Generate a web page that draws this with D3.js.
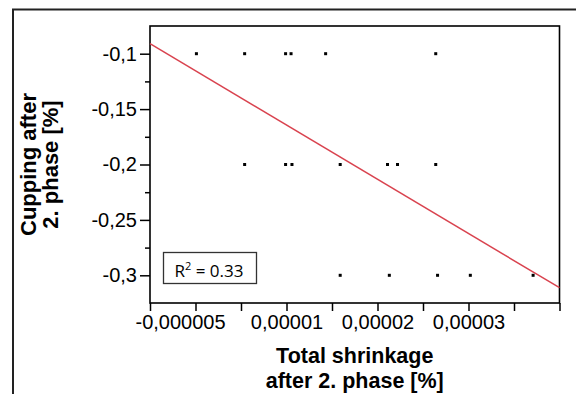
<!DOCTYPE html>
<html>
<head>
<meta charset="utf-8">
<script src="https://cdn.jsdelivr.net/npm/d3@7"></script>
<style>
  html, body { margin: 0; padding: 0; background: #fff; }
  svg { display: block; }
  text { font-family: "Liberation Sans", Arial, sans-serif; fill: #000; }
</style>
</head>
<body>
<svg id="chart" width="576" height="394"></svg>
<script>
// ---- data ----
const shrinkage = [0.0000001, 0.0000054, 0.0000099, 0.0000105, 0.0000143, 0.0000264,
                   0.0000054, 0.0000099, 0.0000106, 0.0000159, 0.0000211, 0.0000222, 0.0000264,
                   0.0000159, 0.0000213, 0.0000266, 0.0000302, 0.0000371];
const cupping = [-0.1, -0.1, -0.1, -0.1, -0.1, -0.1,
                 -0.2, -0.2, -0.2, -0.2, -0.2, -0.2, -0.2,
                 -0.3, -0.3, -0.3, -0.3, -0.3];
const fitX = [-0.000005, 0.00004];
const fitY = [-0.091, -0.3112];
const xTickValues = [-0.000005, 0, 0.000005, 0.00001, 0.000015, 0.00002, 0.000025, 0.00003, 0.000035, 0.00004];
const xLabelValues = [-0.000005, 0.00001, 0.00002, 0.00003];
const xLabelTexts = ["-0,000005", "0,00001", "0,00002", "0,00003"];
const yMajorValues = [-0.1, -0.15, -0.2, -0.25, -0.3];
const yMajorTexts = ["-0,1", "-0,15", "-0,2", "-0,25", "-0,3"];
const yMinorValues = [-0.125, -0.175, -0.225, -0.275];
const r2Text = "0.33";

// ---- layout ----
const svg = d3.select("#chart");
const L = 150, R = 559.5, T = 26, B = 303;
const x = d3.scaleLinear().domain([-0.000005, 0.00004]).range([L, R]);
const y = d3.scaleLinear().domain([-0.325, -0.075]).range([B, T]);

// outer frame
svg.append("rect").attr("x", 13).attr("y", 9.5).attr("width", 700).attr("height", 500)
  .attr("fill", "none").attr("stroke", "#222").attr("stroke-width", 2);

// plot box
svg.append("rect").attr("x", L).attr("y", T).attr("width", R - L).attr("height", B - T)
  .attr("fill", "none").attr("stroke", "#000").attr("stroke-width", 1.6);

// y axis major
const yAxis = svg.append("g").attr("transform", `translate(${L},0)`)
  .call(d3.axisLeft(y).tickValues(yMajorValues).tickSize(10).tickPadding(3)
    .tickFormat((d, i) => yMajorTexts[i]));
yAxis.select(".domain").remove();
yAxis.selectAll("line").attr("stroke", "#000").attr("stroke-width", 1.5);
yAxis.selectAll("text").attr("font-size", 20);

const yMinor = svg.append("g").attr("transform", `translate(${L},0)`)
  .call(d3.axisLeft(y).tickValues(yMinorValues).tickSize(5).tickFormat(""));
yMinor.select(".domain").remove();
yMinor.selectAll("line").attr("stroke", "#000").attr("stroke-width", 1.5);

// x axis
const xAxis = svg.append("g").attr("transform", `translate(0,${B})`)
  .call(d3.axisBottom(x).tickValues(xTickValues).tickSize(8).tickFormat(""));
xAxis.select(".domain").remove();
xAxis.selectAll("line").attr("stroke", "#000").attr("stroke-width", 1.5);

const xLab = svg.append("g").attr("transform", `translate(0,${B})`)
  .call(d3.axisBottom(x).tickValues(xLabelValues).tickSize(0).tickPadding(12)
    .tickFormat((d, i) => xLabelTexts[i]));
xLab.select(".domain").remove();
xLab.selectAll("line").remove();
xLab.selectAll("text").attr("font-size", 20)
  .attr("dx", (d, i) => i === 0 ? 30 : 0);

// regression line
svg.append("line")
  .attr("x1", x(fitX[0])).attr("y1", y(fitY[0]))
  .attr("x2", x(fitX[1])).attr("y2", y(fitY[1]))
  .attr("stroke", "#d9434f").attr("stroke-width", 1.5);

// points
svg.append("g").selectAll("rect").data(shrinkage).join("rect")
  .attr("x", (d) => x(d) - 1.5)
  .attr("y", (d, i) => y(cupping[i]) - 1.5)
  .attr("width", 3).attr("height", 3).attr("fill", "#000");

// R² box
svg.append("rect").attr("x", 163.5).attr("y", 252.5).attr("width", 93).attr("height", 31)
  .attr("fill", "#fff").attr("stroke", "#333").attr("stroke-width", 1.3);
const rt = svg.append("text").attr("x", 209).attr("y", 277).attr("text-anchor", "middle")
  .attr("font-size", 17).style("font-family", "Open Sans, sans-serif");
rt.append("tspan").text("R");
rt.append("tspan").text("2").attr("font-size", 11).attr("dy", -7);
rt.append("tspan").text(" = " + r2Text).attr("dy", 7);

// axis titles
const xt1 = svg.append("text").attr("text-anchor", "middle").attr("font-weight", "bold").attr("font-size", 21.5)
  .attr("x", (L + R) / 2).attr("y", 363).text("Total shrinkage");
const xt2 = svg.append("text").attr("text-anchor", "middle").attr("font-weight", "bold").attr("font-size", 21.5)
  .attr("x", (L + R) / 2).attr("y", 388).text("after 2. phase [%]");

const yc = (T + B) / 2;
const yt = svg.append("text").attr("text-anchor", "middle").attr("font-weight", "bold").attr("font-size", 22)
  .attr("transform", `rotate(-90)`);
yt.append("tspan").attr("x", -yc).attr("y", 36).text("Cupping after");
yt.append("tspan").attr("x", -yc).attr("y", 58).text("2. phase [%]");
</script>
</body>
</html>
